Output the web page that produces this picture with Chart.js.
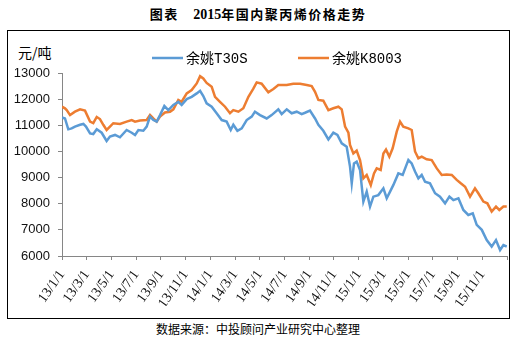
<!DOCTYPE html>
<html>
<head>
<meta charset="utf-8">
<script src="https://cdn.jsdelivr.net/npm/chart.js@4"></script>
<style>
  body { margin: 0; background: #fff; }
  #page { position: relative; width: 516px; height: 347px; overflow: hidden; }
  #frame { position: absolute; left: 7px; top: 30px; width: 501px; height: 287px; border: 1px solid #000; }
  #title { position: absolute; left: 0; top: 4px; width: 516px; text-align: center;
    font: bold 13px "Noto Sans CJK SC"; letter-spacing: 1.5px; color: #000; }
  #title .num { font-family: "Liberation Serif"; font-weight: bold; font-size: 14px; letter-spacing: 0; }
  #unit { position: absolute; left: 18px; top: 42px; font: 14px "Noto Sans CJK SC"; color: #000; }
  #source { position: absolute; left: 0; top: 320px; width: 516px; text-align: center;
    font: 12px "Noto Sans CJK SC"; color: #000; }
  canvas { position: absolute; left: 0; top: 0; }
</style>
</head>
<body>
<div id="page">
  <div id="title">图表　<span class="num">2015</span>年国内聚丙烯价格走势</div>
  <div id="frame"></div>
  <div id="unit">元/吨</div>
  <div id="source">数据来源：中投顾问产业研究中心整理</div>
  <canvas id="chart" width="516" height="347"></canvas>
</div>
<script>
// 月份偏移（0 = 2013/1/1），读自原图
const t30sMonth = [0.0, 0.24, 0.51, 0.78, 1.05, 1.46, 1.73, 1.94, 2.27, 2.53, 2.81, 3.21, 3.61, 3.88, 4.29,
  4.69, 5.23, 5.64, 5.91, 6.18, 6.58, 6.85, 7.12, 7.39, 7.66, 7.93, 8.28, 8.60, 9.01, 9.41, 9.68, 10.09,
  10.49, 10.90, 11.17, 11.43, 11.70, 12.11, 12.51, 12.92, 13.32, 13.65, 13.86, 14.19, 14.54, 14.94, 15.35,
  15.61, 16.02, 16.56, 16.96, 17.50, 17.77, 18.18, 18.58, 18.99, 19.39, 19.66, 20.06, 20.47, 20.74, 21.14,
  21.55, 21.95, 22.28, 22.63, 23.03, 23.30, 23.44, 23.62, 23.84, 24.11, 24.38, 24.65, 24.92, 25.19, 25.59,
  26.00, 26.27, 26.54, 26.81, 27.21, 27.56, 27.83, 28.02, 28.29, 28.56, 28.83, 29.10, 29.37, 29.77, 30.18,
  30.58, 30.99, 31.34, 31.66, 32.07, 32.47, 32.87, 33.23, 33.55, 33.96, 34.36, 34.76, 35.11, 35.44, 35.71, 35.98];
const t30sPrice = [11305, 11260, 10845, 10880, 10950, 11020, 11050, 10950, 10690, 10665, 10845, 10715, 10400, 10570, 10630,
  10540, 10820, 10715, 10630, 10820, 10790, 10950, 11330, 11200, 11140, 11390, 11740, 11580, 11780, 11900, 11780, 12000,
  12090, 12220, 12320, 12120, 11840, 11710, 11460, 11200, 11140, 10820, 11020, 10790, 10880, 11200, 11330,
  11520, 11390, 11260, 11390, 11610, 11430, 11610, 11460, 11520, 11430, 11480, 11560, 11260, 11020, 10790,
  10460, 10715, 10630, 10310, 10180, 9420, 8780, 9540, 9610, 9290, 8080, 8460, 7890, 8270, 8330,
  8590, 8210, 8460, 8720, 9160, 9100, 9440, 9670, 9540, 9230, 8970, 9100, 8840, 8780, 8400,
  8270, 8015, 8270, 8140, 8210, 7760, 7570, 7630, 7190, 7000, 6610, 6360, 6610, 6230, 6420, 6360];

const k8003Month = [0.0, 0.24, 0.38, 0.65, 1.05, 1.46, 1.86, 2.27, 2.53, 2.81, 3.07, 3.34, 3.61, 3.88, 4.15,
  4.69, 5.23, 5.64, 5.91, 6.31, 6.85, 7.12, 7.39, 7.66, 7.93, 8.33, 8.74, 9.01, 9.41, 9.68, 10.09, 10.49,
  10.90, 11.17, 11.43, 11.70, 12.11, 12.38, 12.78, 13.19, 13.59, 13.86, 14.27, 14.67, 15.08, 15.48, 15.75,
  16.15, 16.69, 17.10, 17.50, 18.18, 18.71, 19.26, 19.80, 20.20, 20.47, 20.74, 21.14, 21.55, 21.95, 22.36,
  22.63, 22.90, 23.17, 23.30, 23.57, 23.84, 24.11, 24.38, 24.65, 24.98, 25.24, 25.46, 25.78, 26.00, 26.21,
  26.48, 26.75, 27.08, 27.35, 27.61, 28.02, 28.29, 28.56, 28.83, 29.10, 29.50, 29.91, 30.32, 30.72, 31.12,
  31.53, 31.93, 32.26, 32.61, 33.01, 33.41, 33.68, 34.09, 34.41, 34.76, 35.11, 35.38, 35.71, 35.98];
const k8003Price = [11710, 11650, 11580, 11390, 11520, 11610, 11560, 11140, 11080, 11320, 11240, 11020, 10820, 10950, 11080,
  11050, 11140, 11200, 11140, 11180, 11200, 11390, 11260, 11140, 11330, 11490, 11520, 11610, 11970, 11900, 12220, 12350,
  12600, 12880, 12790, 12620, 12470, 12090, 11900, 11710, 11460, 11580, 11520, 11650, 12090, 12400, 12640,
  12590, 12260, 12390, 12540, 12540, 12590, 12590, 12540, 12500, 12280, 11970, 11940, 11580, 11650, 11710,
  11610, 10950, 10715, 10245, 9920, 10030, 9670, 8970, 9100, 8715, 9160, 9350, 9290, 9920, 10070,
  9800, 10120, 10755, 11140, 10950, 10880, 10820, 10000, 9740, 9800, 9700, 9670, 9350, 9100, 9120,
  9100, 8910, 8780, 8650, 8270, 8590, 8400, 8080, 8015, 7700, 7890, 7760, 7890, 7890];

const seriesNames = ['余姚T30S', '余姚K8003'];
const seriesColors = ['#5B9BD5', '#ED7D31'];
const yTicks = { min: 6000, max: 13000, step: 1000 };

const toPoints = (months, prices) => months.map((m, i) => ({ x: m, y: prices[i] }));

// 横向图例，线段 + 文字
const LEGEND_X = [152, 298];
const seriesLegend = {
  id: 'seriesLegend',
  afterDraw(chart) {
    const ctx = chart.ctx;
    ctx.save();
    ctx.font = '14px "Liberation Mono", "Noto Sans CJK SC"';
    ctx.textBaseline = 'middle';
    chart.data.datasets.forEach((ds, i) => {
      const x = LEGEND_X[i];
      const y = 58;
      ctx.strokeStyle = ds.borderColor;
      ctx.lineWidth = 2.5;
      ctx.beginPath();
      ctx.moveTo(x, y);
      ctx.lineTo(x + 31, y);
      ctx.stroke();
      ctx.fillStyle = '#000';
      ctx.fillText(ds.label, x + 34, y + 1);
    });
    ctx.restore();
  }
};

const monthLabel = v => {
  if (v >= 36) return '';
  return (13 + Math.floor(v / 12)) + '/' + (v % 12 + 1) + '/1';
};

new Chart(document.getElementById('chart'), {
  type: 'line',
  data: {
    datasets: [
      { label: seriesNames[0], data: toPoints(t30sMonth, t30sPrice), borderColor: seriesColors[0] },
      { label: seriesNames[1], data: toPoints(k8003Month, k8003Price), borderColor: seriesColors[1] }
    ]
  },
  options: {
    responsive: false,
    animation: false,
    layout: { padding: { left: 12, right: 9, top: 73, bottom: 41 } },
    elements: {
      line: { borderWidth: 2.5, tension: 0, fill: false },
      point: { radius: 0 }
    },
    plugins: {
      legend: { display: false },
      tooltip: { enabled: false }
    },
    scales: {
      x: {
        type: 'linear',
        min: 0,
        max: 36,
        afterFit: s => { s.height = 50; s.paddingLeft = 0; s.paddingRight = 0; },
        border: { display: true, color: '#868686', width: 1 },
        grid: { drawOnChartArea: false, drawTicks: true, tickLength: 4, color: '#868686' },
        ticks: {
          stepSize: 2,
          autoSkip: false,
          minRotation: 55,
          maxRotation: 55,
          padding: 7,
          color: '#111',
          font: { family: 'Liberation Serif', size: 14 },
          callback: monthLabel
        }
      },
      y: {
        min: yTicks.min,
        max: yTicks.max,
        afterFit: s => { s.width = 50; },
        border: { display: true, color: '#868686', width: 1 },
        grid: { drawOnChartArea: false, drawTicks: true, tickLength: 4, color: '#868686' },
        ticks: {
          stepSize: yTicks.step,
          padding: 8,
          color: '#111',
          font: { family: 'Liberation Sans', size: 13 },
          callback: v => String(v)
        }
      }
    }
  },
  plugins: [seriesLegend]
});
</script>
</body>
</html>
